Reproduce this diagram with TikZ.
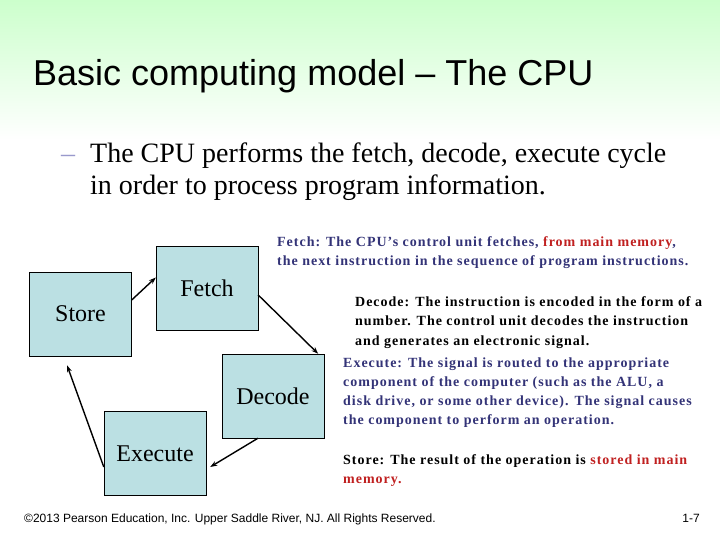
\documentclass[tikz,border=0pt]{standalone}
\usepackage{fontspec}
\setmainfont{Liberation Serif}
\newfontfamily\arialfont{Liberation Sans}
\newfontfamily\notesfont[LetterSpace=7]{Liberation Serif}
\usetikzlibrary{arrows.meta}
\definecolor{boxfill}{RGB}{187,224,227}
\definecolor{titlegreen}{RGB}{204,255,204}
\definecolor{notesblue}{RGB}{51,51,119}
\definecolor{notesred}{RGB}{192,32,32}
\definecolor{dashgray}{RGB}{153,153,204}
\begin{document}
\begin{tikzpicture}[x=1pt, y=-1pt, >={Stealth[length=7pt,width=5pt]},
    stage/.style={draw=black, fill=boxfill, minimum width=102pt, minimum height=84pt,
        inner sep=0pt, font=\fontsize{24}{28}\selectfont},
    flow/.style={->, line width=1.4pt},
    notes/.style={anchor=north west, align=left, inner sep=0pt,
        font=\notesfont\fontsize{14}{19.5}\selectfont\bfseries}]
    \useasboundingbox (0,0) rectangle (720,540);
    \shade[top color=titlegreen, bottom color=white] (0,0) rectangle (720,140);

    \node[anchor=base west, inner sep=0pt, font=\arialfont\fontsize{36}{40}\selectfont]
        (title) at (33,86) {Basic computing model – The CPU};

    \node[anchor=base west, inner sep=0pt, text=dashgray, font=\fontsize{28}{32}\selectfont]
        (dash) at (61,163) {–};
    \node[anchor=base west, inner sep=0pt, font=\fontsize{28}{32}\selectfont, align=left]
        (intro) at (90,195) {The CPU performs the fetch, decode, execute cycle\\in order to process program information.};

    \node[stage] (store) at (80.5,314) {Store};
    \node[stage] (fetch) at (207,288.5) {Fetch};
    \node[stage] (decode) at (273,396) {Decode};
    \node[stage] (execute) at (155,453.5) {Execute};

    \draw[flow] ([yshift=14pt]store.east) -- ([yshift=11pt]fetch.west);
    \draw[flow] ([yshift=-6.5pt]fetch.east) -- ([xshift=-6pt]decode.north east);
    \draw[flow] ([xshift=-15pt]decode.south) -- ([xshift=4pt,yshift=-13.5pt]execute.east);
    \draw[flow] ([yshift=-13.5pt]execute.west) -- ([xshift=-13.5pt,yshift=-9pt]store.south);

    \node[notes, text=notesblue] (fetchnote) at (277,236)
        {Fetch: The CPU’s control unit fetches, \textcolor{notesred}{from main memory},\\
         the next instruction in the sequence of program instructions.};
    \node[notes] (decodenote) at (355,296)
        {Decode: The instruction is encoded in the form of a\\
         number. The control unit decodes the instruction\\
         and generates an electronic signal.};
    \node[notes, text=notesblue, font=\notesfont\fontsize{14}{19}\selectfont\bfseries] (executenote) at (343,358)
        {Execute: The signal is routed to the appropriate\\
         component of the computer (such as the ALU, a\\
         disk drive, or some other device). The signal causes\\
         the component to perform an operation.};
    \node[notes, font=\notesfont\fontsize{14}{19}\selectfont\bfseries] (storenote) at (343,454)
        {Store: The result of the operation is \textcolor{notesred}{stored in main}\\
         \textcolor{notesred}{memory.}};

    \node[anchor=base west, inner sep=0pt, font=\arialfont\fontsize{12}{14}\selectfont]
        (footer) at (24,522) {\textcopyright2013 Pearson Education, Inc. Upper Saddle River, NJ. All Rights Reserved.};
    \node[anchor=base east, inner sep=0pt, font=\arialfont\fontsize{12}{14}\selectfont]
        (page) at (700,522) {1-7};
\end{tikzpicture}
\end{document}
